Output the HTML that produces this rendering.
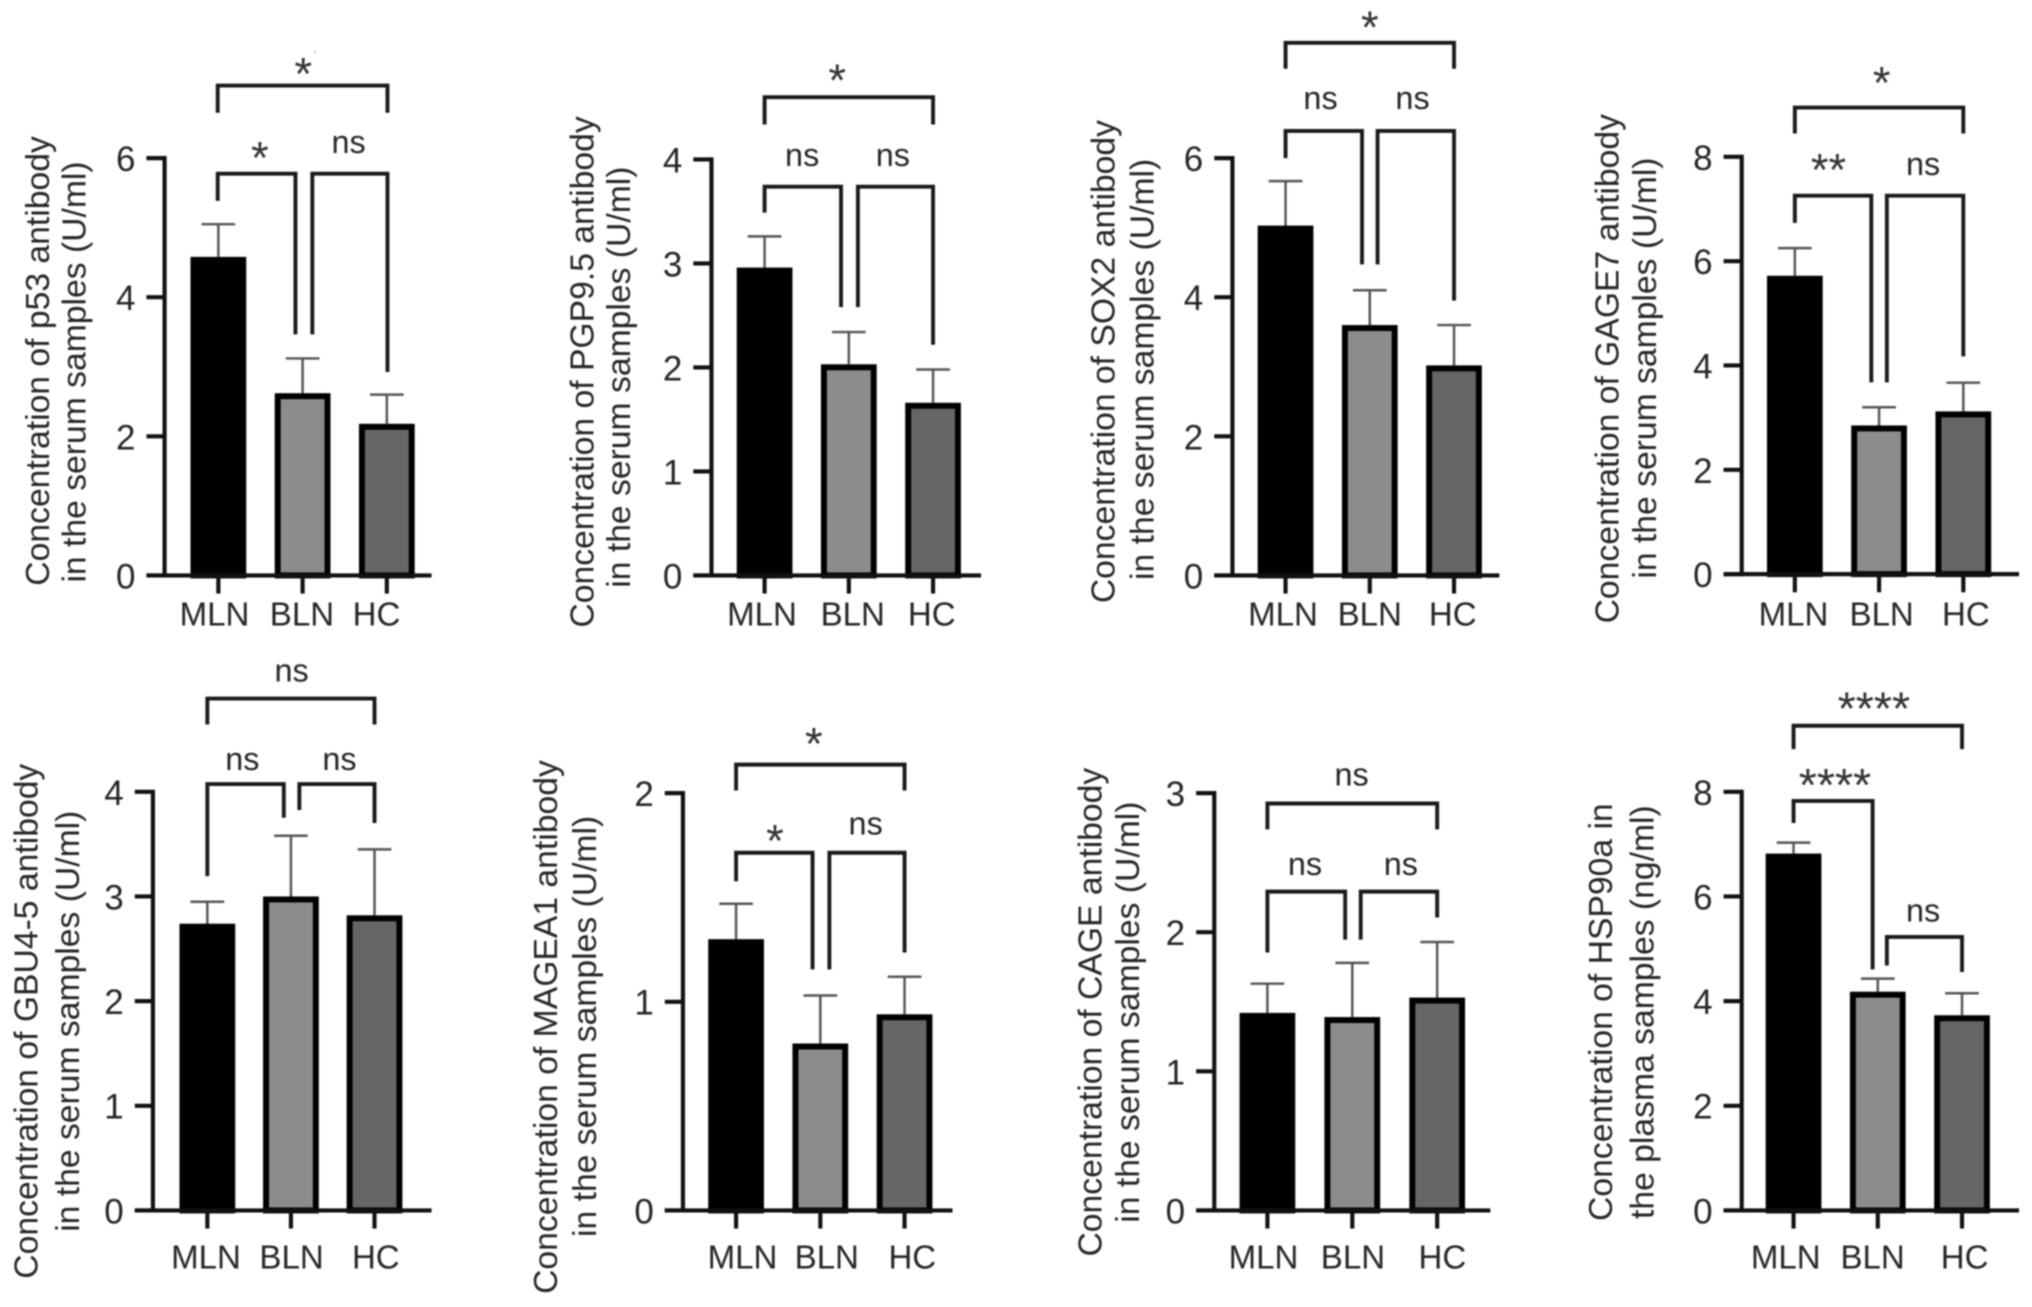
<!DOCTYPE html>
<html lang="en">
<head>
<meta charset="utf-8">
<title>Serum antibody concentrations</title>
<style>
html,body{margin:0;padding:0;background:#fff;width:2032px;height:1307px;overflow:hidden}
svg{display:block;filter:blur(0.8px)}
text{font-family:"Liberation Sans",Arial,sans-serif;fill:#262626}
.ytitle{font-size:26px;text-anchor:middle}
.sig{font-size:25px;text-anchor:middle}
.star{font-size:35px;text-anchor:middle;fill:#333}
.bk{fill:none;stroke:#1a1a1a;stroke-width:3}
</style>
</head>
<body>
<svg id="figure" xmlns="http://www.w3.org/2000/svg" width="2032" height="1307" viewBox="0 0 1568 1008.5">
  <rect x="0" y="0" width="1568" height="1008.5" fill="#fff"/>

  <g>
    <text class="ytitle" transform="translate(38,278.5) rotate(-90)">Concentration of p53 antibody</text>
    <text class="ytitle" transform="translate(66,287) rotate(-90)">in the serum samples (U/ml)</text>
    <path class="bk" d="M168 87V66H299V87"/>
    <path class="bk" d="M168 155V134H228V258"/>
    <path class="bk" d="M241 258V134H299V287"/>
    <text class="star" x="234" y="69">*</text>
    <circle cx="243" cy="40" r="1" fill="#ccc"/>
    <text class="star" x="200.500" y="134">*</text>
    <text class="sig" x="269" y="118">ns</text>
  </g>

  <g>
    <text class="ytitle" transform="translate(458,287) rotate(-90)">Concentration of PGP9.5 antibody</text>
    <text class="ytitle" transform="translate(486,291) rotate(-90)">in the serum samples (U/ml)</text>
    <path class="bk" d="M590 96V75H720V96"/>
    <path class="bk" d="M590 164V144H649V237"/>
    <path class="bk" d="M662 237V144H720V266"/>
    <text class="star" x="646" y="74">*</text>
    <text class="sig" x="619" y="128">ns</text>
    <text class="sig" x="689" y="128">ns</text>
  </g>

  <g>
    <text class="ytitle" transform="translate(860,279) rotate(-90)">Concentration of SOX2 antibody</text>
    <text class="ytitle" transform="translate(890,285) rotate(-90)">in the serum samples (U/ml)</text>
    <path class="bk" d="M992 53V33H1122V53"/>
    <path class="bk" d="M992 122V101H1051V204"/>
    <path class="bk" d="M1063 204V101H1122V232"/>
    <text class="star" x="1057" y="33">*</text>
    <text class="sig" x="1019" y="84">ns</text>
    <text class="sig" x="1090" y="84">ns</text>
  </g>

  <g>
    <text class="ytitle" transform="translate(1249,284.500) rotate(-90)">Concentration of GAGE7 antibody</text>
    <text class="ytitle" transform="translate(1278,284) rotate(-90)">in the serum samples (U/ml)</text>
    <path class="bk" d="M1385 103V83H1515V103"/>
    <path class="bk" d="M1385 172V151H1444V295"/>
    <path class="bk" d="M1456 295V151H1515V275"/>
    <text class="star" x="1452" y="76">*</text>
    <text class="star" x="1411" y="143">**</text>
    <text class="sig" x="1484" y="135">ns</text>
  </g>

  <g>
    <text class="ytitle" transform="translate(29,788) rotate(-90)">Concentration of GBU4-5 antibody</text>
    <text class="ytitle" transform="translate(61,788) rotate(-90)">in the serum samples (U/ml)</text>
    <path class="bk" d="M160 559V539H289V559"/>
    <path class="bk" d="M160 676V605H219V631"/>
    <path class="bk" d="M231 625V605H289V635"/>
    <text class="sig" x="225" y="526">ns</text>
    <text class="sig" x="187" y="594">ns</text>
    <text class="sig" x="262" y="594">ns</text>
  </g>

  <g>
    <text class="ytitle" transform="translate(430,792.500) rotate(-90)">Concentration of MAGEA1 antibody</text>
    <text class="ytitle" transform="translate(460,792) rotate(-90)">in the serum samples (U/ml)</text>
    <path class="bk" d="M568 610V590H698V610"/>
    <path class="bk" d="M568 680V658H627V748"/>
    <path class="bk" d="M640 748V658H698V735"/>
    <text class="star" x="628" y="586">*</text>
    <text class="star" x="598" y="661">*</text>
    <text class="sig" x="668" y="644">ns</text>
  </g>

  <g>
    <text class="ytitle" transform="translate(850,781) rotate(-90)">Concentration of CAGE antibody</text>
    <text class="ytitle" transform="translate(879,781) rotate(-90)">in the serum samples (U/ml)</text>
    <path class="bk" d="M978 640V620H1109V640"/>
    <path class="bk" d="M978 735V688H1038V725"/>
    <path class="bk" d="M1050 725V688H1109V708"/>
    <text class="sig" x="1043" y="606">ns</text>
    <text class="sig" x="1007" y="675">ns</text>
    <text class="sig" x="1081" y="675">ns</text>
  </g>

  <g>
    <text class="ytitle" transform="translate(1244,781) rotate(-90)">Concentration of HSP90a in</text>
    <text class="ytitle" transform="translate(1276,781) rotate(-90)">the plasma samples (ng/ml)</text>
    <path class="bk" d="M1384 578V560H1514V578"/>
    <path class="bk" d="M1384 635V618H1445V748"/>
    <path class="bk" d="M1456 745V723H1514V750"/>
    <text class="star" x="1446" y="559" style="font-size:36px">****</text>
    <text class="star" x="1416" y="618" style="font-size:36px">****</text>
    <text class="sig" x="1484" y="711">ns</text>
  </g>
</svg>

<script>
const categories = ["MLN", "BLN", "HC"];

const p53Means = [4.58, 2.62, 2.18];
const p53Upper = [5.05, 3.12, 2.60];
const p53Ticks = [0, 2, 4, 6];

const pgp95Means = [2.96, 2.03, 1.66];
const pgp95Upper = [3.26, 2.34, 1.98];
const pgp95Ticks = [0, 1, 2, 3, 4];

const sox2Means = [5.03, 3.60, 3.02];
const sox2Upper = [5.67, 4.10, 3.60];
const sox2Ticks = [0, 2, 4, 6];

const gage7Means = [5.72, 2.85, 3.12];
const gage7Upper = [6.25, 3.20, 3.67];
const gage7Ticks = [0, 2, 4, 6, 8];

const gbu45Means = [2.74, 3.00, 2.82];
const gbu45Upper = [2.95, 3.58, 3.45];
const gbu45Ticks = [0, 1, 2, 3, 4];

const magea1Means = [1.30, 0.80, 0.94];
const magea1Upper = [1.47, 1.03, 1.12];
const magea1Ticks = [0, 1, 2];

const cageMeans = [1.42, 1.39, 1.53];
const cageUpper = [1.63, 1.78, 1.93];
const cageTicks = [0, 1, 2, 3];

const hsp90aMeans = [6.82, 4.18, 3.73];
const hsp90aUpper = [7.03, 4.43, 4.15];
const hsp90aTicks = [0, 2, 4, 6, 8];

const barFills = ["#000000", "#8c8c8c", "#666666"];

const svg = document.getElementById("figure");
const NS = "http://www.w3.org/2000/svg";

function make(tag, attrs, parent) {
  const el = document.createElementNS(NS, tag);
  for (const k in attrs) el.setAttribute(k, attrs[k]);
  parent.appendChild(el);
  return el;
}

function drawPanel(id, means, upper, ticks, frame) {
  const yMax = ticks[ticks.length - 1];
  const y = v => frame.zero - (v / yMax) * (frame.zero - frame.top);
  const x = i => frame.first + i * frame.step;

  const group = make("g", {}, svg);
  
  

  means.forEach((value, i) => {
    const whisker = make("path", {
      d: "M" + x(i) + " " + y(value) + "V" + y(upper[i]) + "M" + (x(i) - 13) + " " + y(upper[i]) + "H" + (x(i) + 13),
      fill: "none", stroke: "#555", "stroke-width": 1.9
    }, group);
    
    

    const bar = make("rect", {
      x: x(i) - 19.2, y: y(value) + 2.3, width: 38.4, height: Math.max(0, frame.zero - y(value) - 2.3),
      fill: barFills[i], stroke: "#000", "stroke-width": 4.6
    }, group);
    
    

    const xTick = make("line", {
      x1: x(i), x2: x(i), y1: frame.zero, y2: frame.zero + 14, stroke: "#111", "stroke-width": 3.2
    }, group);
    
    

    const xLabel = make("text", {
      x: x(i) + frame.labelShift[i], y: frame.zero + frame.labelDrop, "text-anchor": "middle", "font-size": 25.5
    }, group);
    xLabel.textContent = categories[i];
    
    
  });

  const yAxis = make("line", {
    x1: frame.axis, x2: frame.axis, y1: frame.top - 1.6, y2: frame.zero + 1.6, stroke: "#111", "stroke-width": 3.2
  }, group);
  
  

  const xAxis = make("line", {
    x1: frame.axis - 14, x2: frame.right, y1: frame.zero, y2: frame.zero, stroke: "#111", "stroke-width": 3.2
  }, group);
  
  

  ticks.forEach(tick => {
    const yTick = make("line", {
      x1: frame.axis - 14, x2: frame.axis, y1: y(tick), y2: y(tick), stroke: "#111", "stroke-width": 3.2
    }, group);
    
    

    const yLabel = make("text", {
      x: frame.axis - 22.5, y: y(tick) + 10, "text-anchor": "end", "font-size": 27
    }, group);
    yLabel.textContent = String(tick);
    
    
  });
}

drawPanel("p53", p53Means, p53Upper, p53Ticks, {axis: 127, right: 333, top: 122, zero: 444, first: 168.5, step: 65, labelDrop: 38.5, labelShift: [-3, -0.5, -8]});
drawPanel("pgp95", pgp95Means, pgp95Upper, pgp95Ticks, {axis: 549, right: 757, top: 123, zero: 444, first: 590, step: 65, labelDrop: 38.5, labelShift: [-2, 3, -1]});
drawPanel("sox2", sox2Means, sox2Upper, sox2Ticks, {axis: 951, right: 1157, top: 122, zero: 444, first: 992, step: 65, labelDrop: 38.5, labelShift: [-2, 0, -1]});
drawPanel("gage7", gage7Means, gage7Upper, gage7Ticks, {axis: 1344, right: 1558, top: 121, zero: 443, first: 1385, step: 65, labelDrop: 39.5, labelShift: [-1, 2, 2]});
drawPanel("gbu45", gbu45Means, gbu45Upper, gbu45Ticks, {axis: 118, right: 333, top: 611, zero: 934, first: 160, step: 64.5, labelDrop: 45, labelShift: [-1, 0.5, 1]});
drawPanel("magea1", magea1Means, magea1Upper, magea1Ticks, {axis: 527, right: 735, top: 612, zero: 934, first: 568, step: 65, labelDrop: 45, labelShift: [5, 5, 6]});
drawPanel("cage", cageMeans, cageUpper, cageTicks, {axis: 937, right: 1150, top: 612, zero: 934, first: 978, step: 65.5, labelDrop: 45, labelShift: [-3, 0.5, 4]});
drawPanel("hsp90a", hsp90aMeans, hsp90aUpper, hsp90aTicks, {axis: 1344, right: 1558, top: 611, zero: 934, first: 1384, step: 65, labelDrop: 45, labelShift: [-6, -4, 2]});
</script>
</body>
</html>
